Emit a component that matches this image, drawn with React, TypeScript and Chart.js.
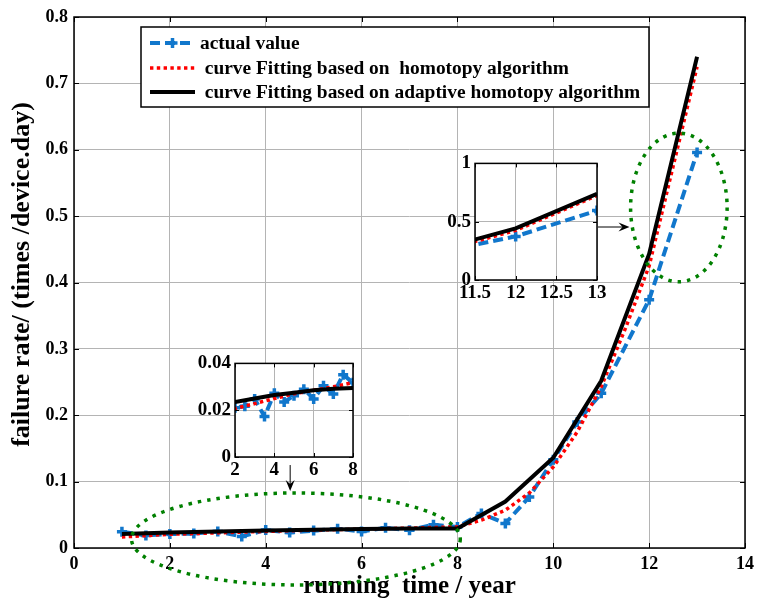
import React, { useEffect, useRef } from "react";
import { Chart, registerables } from "chart.js";

Chart.register(...registerables);

// ---------------- data ----------------
const timeActual = [1, 1.5, 2, 2.5, 3, 3.5, 4, 4.5, 5, 5.5, 6, 6.5, 7, 7.5, 8, 8.5, 9, 9.5, 10, 10.5, 11, 12, 13];
const actualValue = [0.0245, 0.019, 0.021, 0.0217, 0.0248, 0.0173, 0.0272, 0.0235, 0.0262, 0.029, 0.0248, 0.0304, 0.0269, 0.0352, 0.0317, 0.052, 0.037, 0.077, 0.133, 0.19, 0.233, 0.374, 0.596];

const timeHomotopy = [1, 2, 3, 4, 5, 6, 7, 8, 8.5, 9, 9.5, 10, 10.5, 11, 11.5, 12, 12.5, 13];
const homotopyFit = [0.0166, 0.0207, 0.0228, 0.025, 0.027, 0.0285, 0.03, 0.0318, 0.042, 0.057, 0.083, 0.122, 0.175, 0.243, 0.33, 0.425, 0.575, 0.725];

const timeAdaptive = [1, 2, 3, 4, 5, 6, 7, 8, 9, 10, 11, 12, 13];
const adaptiveFit = [0.021, 0.0235, 0.025, 0.0265, 0.0275, 0.0285, 0.0292, 0.0295, 0.07, 0.136, 0.252, 0.443, 0.74];

const seriesLabels = [
  "actual value",
  " curve Fitting based on  homotopy algorithm",
  " curve Fitting based on adaptive homotopy algorithm",
];

const xTitle = "running  time / year";
const yTitle = "failure rate/ (times /device.day)";

// main axes
const mainX = { min: 0, max: 14, step: 2 };
const mainY = { min: 0, max: 0.8, step: 0.1 };
// inset axes
const inset1X = { min: 2, max: 8, step: 2 };
const inset1Y = { min: 0, max: 0.04, step: 0.02 };
const inset2X = { min: 11.5, max: 13, step: 0.5 };
const inset2Y = { min: 0, max: 1, step: 0.5 };

// annotations (data coordinates)
const ellipseCX = [4.63, 12.62];
const ellipseCY = [0.0136, 0.513];
const ellipseRX = [3.43, 1.007];
const ellipseRY = [0.0693, 0.112];
const arrowFrom = [[4.51, 0.125], [10.86, 0.4836]];
const arrowTo = [[4.51, 0.086], [11.59, 0.4836]];

// ---------------- styles ----------------
const FONT = "'Liberation Serif', 'Times New Roman', serif";
const BLUE = "#1177cc";
const RED = "#ff0000";
const BLACK = "#000000";
const GREEN = "#008000";
const GRID = "#b4b4b4";

function fmt(v: number) {
  return String(+(+v).toFixed(3));
}

function makeDatasets() {
  return [
    {
      label: seriesLabels[0],
      data: timeActual.map((t, i) => ({ x: t, y: actualValue[i] })),
      borderColor: BLUE,
      backgroundColor: BLUE,
      borderWidth: 4,
      borderDash: [10, 5],
      pointStyle: "cross",
      pointRadius: 5,
      pointBorderWidth: 3.5,
      pointBorderColor: BLUE,
      tension: 0,
      fill: false,
      order: 2,
    },
    {
      label: seriesLabels[1],
      data: timeHomotopy.map((t, i) => ({ x: t, y: homotopyFit[i] })),
      borderColor: RED,
      borderWidth: 3.5,
      borderDash: [3.4, 3.4],
      pointRadius: 0,
      tension: 0,
      fill: false,
      order: 1,
    },
    {
      label: seriesLabels[2],
      data: timeAdaptive.map((t, i) => ({ x: t, y: adaptiveFit[i] })),
      borderColor: BLACK,
      borderWidth: 4,
      pointRadius: 0,
      tension: 0,
      fill: false,
      order: 0,
    },
  ];
}

function drawFrame(chart: any, tickLen: number) {
  const { ctx, chartArea: a, scales } = chart;
  const x = scales.x, y = scales.y;
  ctx.save();
  ctx.setLineDash([]);
  ctx.strokeStyle = "#000";
  ctx.lineWidth = 1;
  ctx.beginPath();
  for (const t of x.ticks) {
    const px = Math.round(x.getPixelForValue(t.value)) + 0.5;
    ctx.moveTo(px, a.bottom); ctx.lineTo(px, a.bottom - tickLen);
    ctx.moveTo(px, a.top); ctx.lineTo(px, a.top + tickLen);
  }
  for (const t of y.ticks) {
    const py = Math.round(y.getPixelForValue(t.value)) + 0.5;
    ctx.moveTo(a.left, py); ctx.lineTo(a.left + tickLen, py);
    ctx.moveTo(a.right, py); ctx.lineTo(a.right - tickLen, py);
  }
  ctx.stroke();
  ctx.lineWidth = 1.5;
  ctx.strokeRect(a.left, a.top, a.right - a.left, a.bottom - a.top);
  ctx.restore();
}

function drawArrow(ctx: CanvasRenderingContext2D, x1: number, y1: number, x2: number, y2: number) {
  const ang = Math.atan2(y2 - y1, x2 - x1);
  ctx.beginPath();
  ctx.moveTo(x1, y1);
  ctx.lineTo(x2 - 6 * Math.cos(ang), y2 - 6 * Math.sin(ang));
  ctx.stroke();
  const L = 11, W = 4.5, N = 7;
  const c = Math.cos(ang), s = Math.sin(ang);
  ctx.beginPath();
  ctx.moveTo(x2, y2);
  ctx.lineTo(x2 - L * c + W * s, y2 - L * s - W * c);
  ctx.lineTo(x2 - N * c, y2 - N * s);
  ctx.lineTo(x2 - L * c - W * s, y2 - L * s + W * c);
  ctx.closePath();
  ctx.fill();
}

const whiteArea = {
  id: "whiteArea",
  beforeDraw(chart: any) {
    const { ctx, chartArea: a } = chart;
    ctx.save();
    ctx.fillStyle = "#fff";
    ctx.fillRect(a.left, a.top, a.right - a.left, a.bottom - a.top);
    ctx.restore();
  },
};

const mainDecor = {
  id: "mainDecor",
  afterDraw(chart: any) {
    const { ctx, chartArea: a, scales } = chart;
    const x = scales.x, y = scales.y;
    drawFrame(chart, 5);
    ctx.save();
    // y axis title
    ctx.fillStyle = "#000";
    ctx.font = `bold 26px ${FONT}`;
    ctx.textAlign = "center";
    ctx.textBaseline = "middle";
    ctx.translate(22, (a.top + a.bottom) / 2 - 8);
    ctx.rotate(-Math.PI / 2);
    ctx.fillText(yTitle, 0, 0);
    ctx.restore();
    ctx.save();
    // ellipses
    ctx.strokeStyle = GREEN;
    ctx.lineWidth = 3.5;
    ctx.setLineDash([3.5, 6]);
    for (let i = 0; i < ellipseCX.length; i++) {
      const cx = x.getPixelForValue(ellipseCX[i]);
      const cy = y.getPixelForValue(ellipseCY[i]);
      const rx = Math.abs(x.getPixelForValue(ellipseCX[i] + ellipseRX[i]) - cx);
      const ry = Math.abs(y.getPixelForValue(ellipseCY[i] + ellipseRY[i]) - cy);
      ctx.beginPath();
      ctx.ellipse(cx, cy, rx, ry, 0, 0, Math.PI * 2);
      ctx.stroke();
    }
    // arrows
    ctx.setLineDash([]);
    ctx.strokeStyle = "#000";
    ctx.fillStyle = "#000";
    ctx.lineWidth = 1;
    for (let i = 0; i < arrowFrom.length; i++) {
      drawArrow(
        ctx,
        x.getPixelForValue(arrowFrom[i][0]), y.getPixelForValue(arrowFrom[i][1]),
        x.getPixelForValue(arrowTo[i][0]), y.getPixelForValue(arrowTo[i][1])
      );
    }
    // legend
    const lx = a.left + 67, ly = a.top + 10, lw = 508, lh = 80;
    ctx.fillStyle = "#fff";
    ctx.fillRect(lx, ly, lw, lh);
    ctx.strokeStyle = "#000";
    ctx.lineWidth = 1.5;
    ctx.strokeRect(lx, ly, lw, lh);
    const rows = [ly + 16, ly + 41, ly + 65];
    const ds = chart.data.datasets;
    ctx.font = `bold 19.4px ${FONT}`;
    ctx.textBaseline = "middle";
    ctx.textAlign = "left";
    for (let i = 0; i < ds.length; i++) {
      const d = ds[i];
      const yy = rows[i];
      const x0 = lx + 9, x1 = lx + 54;
      ctx.strokeStyle = d.borderColor;
      ctx.lineWidth = d.borderWidth;
      ctx.setLineDash(d.borderDash || []);
      ctx.beginPath();
      ctx.moveTo(x0, yy);
      ctx.lineTo(x1, yy);
      ctx.stroke();
      ctx.setLineDash([]);
      if (d.pointRadius) {
        const cx = (x0 + x1) / 2, r = d.pointRadius;
        ctx.lineWidth = d.pointBorderWidth;
        ctx.beginPath();
        ctx.moveTo(cx - r, yy); ctx.lineTo(cx + r, yy);
        ctx.moveTo(cx, yy - r); ctx.lineTo(cx, yy + r);
        ctx.stroke();
      }
      ctx.fillStyle = "#000";
      ctx.fillText(d.label, lx + 59, yy + 1);
    }
    ctx.restore();
  },
};

const insetDecor = {
  id: "insetDecor",
  afterDraw(chart: any) {
    drawFrame(chart, 4);
  },
};

function axisOpts(r: { min: number; max: number; step: number }, size: number, pad: number, fitSize: number, horizontal: boolean, title?: any) {
  return {
    type: "linear",
    min: r.min,
    max: r.max,
    ticks: {
      stepSize: r.step,
      color: "#000",
      font: { family: FONT, size, weight: "bold" },
      padding: pad,
      maxRotation: 0,
      autoSkip: false,
      callback: (v: any) => fmt(v),
    },
    grid: { color: GRID, lineWidth: 1, drawTicks: false },
    border: { display: false },
    title: title || { display: false },
    afterFit(scale: any) {
      if (horizontal) scale.height = fitSize;
      else scale.width = fitSize;
    },
  };
}

function baseOptions(padding: any, xs: any, ys: any) {
  return {
    responsive: false,
    animation: false,
    events: [],
    layout: { padding },
    plugins: { legend: { display: false }, tooltip: { enabled: false }, title: { display: false } },
    scales: { x: xs, y: ys },
  };
}

export default function App() {
  const mainRef = useRef<HTMLCanvasElement>(null);
  const in1Ref = useRef<HTMLCanvasElement>(null);
  const in2Ref = useRef<HTMLCanvasElement>(null);

  useEffect(() => {
    const charts: Chart[] = [];
    const mainCfg: any = {
      type: "line",
      data: { datasets: makeDatasets() },
      options: baseOptions(
        { left: 0, top: 17, right: 12, bottom: 0 },
        axisOpts(mainX, 18, 6, 56, true, {
          display: true,
          text: xTitle,
          color: "#000",
          font: { family: FONT, size: 25, weight: "bold" },
          padding: { top: 0, bottom: 2 },
        }),
        axisOpts(mainY, 18, 6, 74, false)
      ),
      plugins: [whiteArea, mainDecor],
    };
    charts.push(new Chart(mainRef.current as HTMLCanvasElement, mainCfg));

    const in1Cfg: any = {
      type: "line",
      data: { datasets: makeDatasets() },
      options: baseOptions(
        { left: 0, top: 12, right: 17, bottom: 0 },
        axisOpts(inset1X, 19, 2, 31, true),
        axisOpts(inset1Y, 19, 4, 55, false)
      ),
      plugins: [whiteArea, insetDecor],
    };
    charts.push(new Chart(in1Ref.current as HTMLCanvasElement, in1Cfg));

    const in2Cfg: any = {
      type: "line",
      data: { datasets: makeDatasets() },
      options: baseOptions(
        { left: 0, top: 12, right: 18, bottom: 0 },
        axisOpts(inset2X, 19, 2, 28, true),
        axisOpts(inset2Y, 19, 4, 55, false)
      ),
      plugins: [whiteArea, insetDecor],
    };
    charts.push(new Chart(in2Ref.current as HTMLCanvasElement, in2Cfg));

    return () => charts.forEach((c) => c.destroy());
  }, []);

  return (
    <div style={{ position: "absolute", left: 0, top: 0, width: 760, height: 604, background: "#fff" }}>
      <canvas ref={mainRef} width={760} height={604} style={{ position: "absolute", left: 0, top: 0 }} />
      <canvas ref={in1Ref} width={190} height={140} style={{ position: "absolute", left: 180, top: 348 }} />
      <canvas ref={in2Ref} width={195} height={160} style={{ position: "absolute", left: 420, top: 148 }} />
    </div>
  );
}
